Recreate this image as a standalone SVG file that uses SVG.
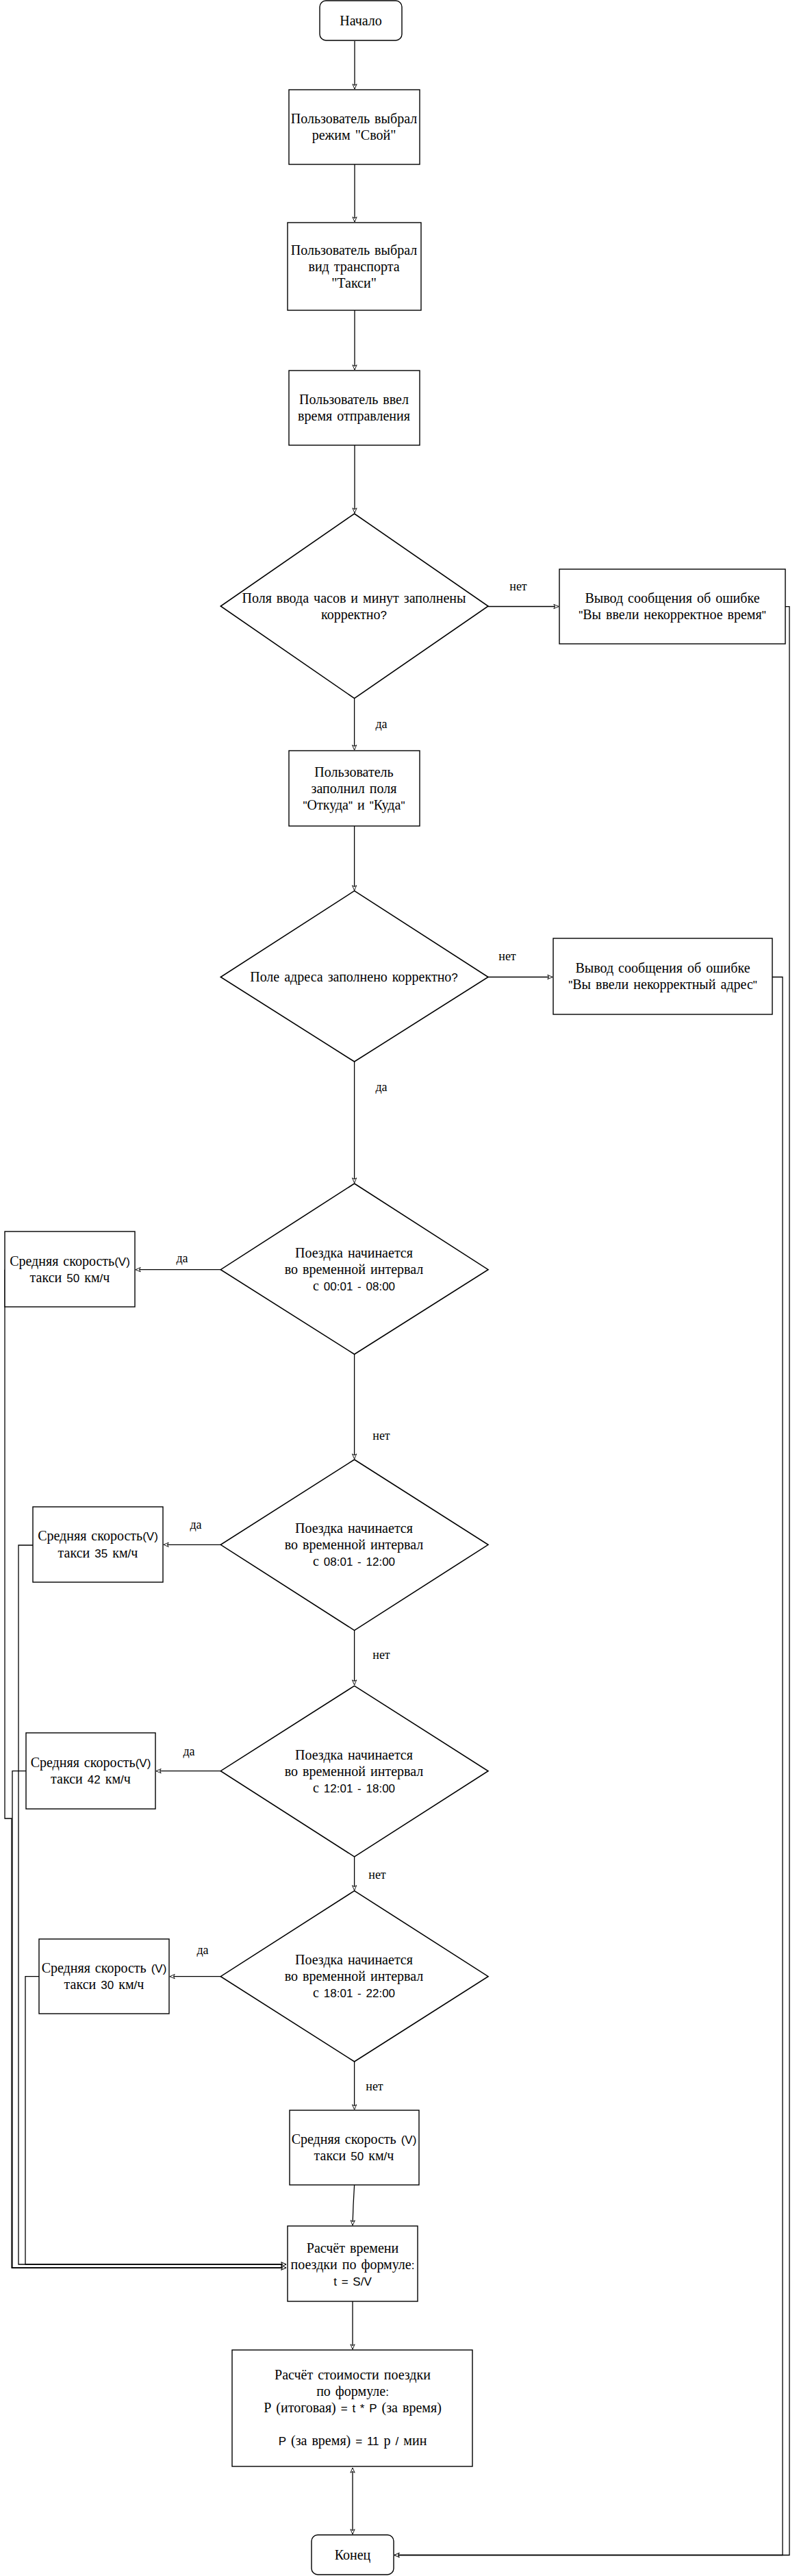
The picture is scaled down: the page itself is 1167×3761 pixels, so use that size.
<svg xmlns="http://www.w3.org/2000/svg" width="1167" height="3761" viewBox="0 0 1167 3761">
<style>
.bg{fill:#fff}
.box{fill:#fff;stroke:#000;stroke-width:1.4}
.box2{fill:none;stroke:#000;stroke-width:0.7;opacity:0.7}
.dia{fill:#fff;stroke:#000;stroke-width:1.6}
.t{font-family:"Liberation Serif","Times New Roman",serif;font-size:20px;text-anchor:middle;word-spacing:2px;fill:#000}
.h{font-family:"Liberation Sans",Arial,sans-serif;font-size:17px;font-weight:normal}
.lbl{font-family:"Liberation Serif","Times New Roman",serif;font-size:18px;text-anchor:middle;fill:#000}
.c{fill:none;stroke:#000;stroke-width:1.3}
</style>
<defs>
<marker id="ah" viewBox="0 0 10 10" refX="9" refY="5" markerWidth="9" markerHeight="9" orient="auto-start-reverse" markerUnits="userSpaceOnUse">
<path d="M1,1.5 L9,5 L1,8.5 L3,5 Z" fill="#fff" stroke="#000" stroke-width="1"/>
</marker>
</defs>
<rect class="bg" x="0" y="0" width="1167" height="3761"/>

<g id="connectors">
<path class="c" d="M518,60 L518,130" marker-end="url(#ah)"/>
<path class="c" d="M518,240 L518,324" marker-end="url(#ah)"/>
<path class="c" d="M518,453 L518,540" marker-end="url(#ah)"/>
<path class="c" d="M518,650 L518,749" marker-end="url(#ah)"/>
<path class="c" d="M713,885.5 L816,885.5" marker-end="url(#ah)"/>
<path class="c" d="M517.6,1019.6 L517.6,1095" marker-end="url(#ah)"/>
<path class="c" d="M517.6,1206 L517.6,1300" marker-end="url(#ah)"/>
<path class="c" d="M713,1426.5 L807,1426.5" marker-end="url(#ah)"/>
<path class="c" d="M517.6,1550 L517.6,1727" marker-end="url(#ah)"/>
<path class="c" d="M322,1853.7 L198,1853.7" marker-end="url(#ah)"/>
<path class="c" d="M517.6,1977 L517.6,2130" marker-end="url(#ah)"/>
<path class="c" d="M322,2255.3 L239,2255.3" marker-end="url(#ah)"/>
<path class="c" d="M517.6,2380 L517.6,2460" marker-end="url(#ah)"/>
<path class="c" d="M322,2585.7 L228,2585.7" marker-end="url(#ah)"/>
<path class="c" d="M517.6,2711 L517.6,2760" marker-end="url(#ah)"/>
<path class="c" d="M322,2885.7 L248,2885.7" marker-end="url(#ah)"/>
<path class="c" d="M517.6,3010 L517.6,3080" marker-end="url(#ah)"/>
<path class="c" d="M517.6,3190 L516,3220 L515,3249" marker-end="url(#ah)"/>
<path class="c" d="M515,3360 L515,3430" marker-end="url(#ah)"/>
<path class="c" d="M515,3603 L515,3700" marker-start="url(#ah)" marker-end="url(#ah)"/>
<path class="c" d="M7,1853.7 L7,2655 L17,2655 L17,3311 L418,3311" marker-end="url(#ah)"/>
<path class="c" d="M38,2585.7 L18,2585.7 L18,3311 L418,3311" marker-end="url(#ah)"/>
<path class="c" d="M48,2256 L27,2256 L27,3306 L418,3306" marker-end="url(#ah)"/>
<path class="c" d="M57,2885.7 L37,2885.7 L37,3306 L418,3306" marker-end="url(#ah)"/>
<path class="c" d="M1147,885.7 L1153,885.7 L1153,3730.5 L576,3730.5" marker-end="url(#ah)"/>
<path class="c" d="M1128,1426.5 L1143,1426.5 L1143,3730.5 L576,3730.5" marker-end="url(#ah)"/>
<text class="lbl" x="757" y="862">нет</text>
<text class="lbl" x="557" y="1063">да</text>
<text class="lbl" x="741" y="1402">нет</text>
<text class="lbl" x="557" y="1593">да</text>
<text class="lbl" x="266" y="1843">да</text>
<text class="lbl" x="557" y="2102">нет</text>
<text class="lbl" x="286" y="2232">да</text>
<text class="lbl" x="557" y="2422">нет</text>
<text class="lbl" x="276" y="2563">да</text>
<text class="lbl" x="551" y="2743">нет</text>
<text class="lbl" x="296" y="2853">да</text>
<text class="lbl" x="547" y="3052">нет</text>
</g>

<g id="start">
<rect class="box" x="467" y="1" width="120" height="58" rx="9"/>
<text class="t" x="527" y="37">Начало</text>
</g>

<g id="mode">
<rect class="box" x="422" y="131" width="191" height="109"/>
<text class="t" x="517" y="180">Пользователь выбрал</text>
<text class="t" x="517" y="204">режим "Свой"</text>
</g>

<g id="transport">
<rect class="box" x="420" y="325" width="195" height="128"/>
<text class="t" x="517" y="372">Пользователь выбрал</text>
<text class="t" x="517" y="396">вид транспорта</text>
<text class="t" x="517" y="420">"Такси"</text>
</g>

<g id="time">
<rect class="box" x="422" y="541" width="191" height="109"/>
<text class="t" x="517" y="590">Пользователь ввел</text>
<text class="t" x="517" y="614">время отправления</text>
</g>

<g id="check-time">
<polygon class="dia" points="517.6,750 713,885 517.6,1019.6 322.3,885"/>
<text class="t" x="517" y="880">Поля ввода часов и минут заполнены</text>
<text class="t" x="517" y="904">корректно<tspan class="h">?</tspan></text>
</g>

<g id="err-time">
<rect class="box" x="817" y="831" width="330" height="109"/>
<text class="t" x="982" y="880">Вывод сообщения об ошибке</text>
<text class="t" x="982" y="904"><tspan class="h">"</tspan>Вы ввели некорректное время<tspan class="h">"</tspan></text>
</g>

<g id="address">
<rect class="box" x="422" y="1096" width="191" height="110"/>
<text class="t" x="517" y="1134">Пользователь</text>
<text class="t" x="517" y="1158">заполнил поля</text>
<text class="t" x="517" y="1182"><tspan class="h">"</tspan>Откуда<tspan class="h">"</tspan> и <tspan class="h">"</tspan>Куда<tspan class="h">"</tspan></text>
</g>

<g id="check-address">
<polygon class="dia" points="517.6,1300.7 713,1426.5 517.6,1550 322.3,1426.5"/>
<text class="t" x="517" y="1433">Поле адреса заполнено корректно<tspan class="h">?</tspan></text>
</g>

<g id="err-address">
<rect class="box" x="808" y="1370" width="320" height="111"/>
<text class="t" x="968" y="1420">Вывод сообщения об ошибке</text>
<text class="t" x="968" y="1444"><tspan class="h">"</tspan>Вы ввели некорректный адрес<tspan class="h">"</tspan></text>
</g>

<g id="interval1">
<polygon class="dia" points="517.6,1728 713,1853.7 517.6,1977.2 322.3,1853.7"/>
<text class="t" x="517" y="1836">Поездка начинается</text>
<text class="t" x="517" y="1860">во временной интервал</text>
<text class="t" x="517" y="1884">с <tspan class="h">00:01 - 08:00</tspan></text>
</g>

<g id="speed1">
<rect class="box" x="7" y="1798" width="190" height="110"/>
<text class="t" x="102" y="1848">Средняя скорость<tspan class="h">(V)</tspan></text>
<text class="t" x="102" y="1872">такси <tspan class="h">50</tspan> км<tspan class="h">/</tspan>ч</text>
</g>

<g id="interval2">
<polygon class="dia" points="517.6,2131 713,2255.3 517.6,2380.3 322.3,2255.3"/>
<text class="t" x="517" y="2238">Поездка начинается</text>
<text class="t" x="517" y="2262">во временной интервал</text>
<text class="t" x="517" y="2286">с <tspan class="h">08:01 - 12:00</tspan></text>
</g>

<g id="speed2">
<rect class="box" x="48" y="2200" width="190" height="110"/>
<text class="t" x="143" y="2249">Средняя скорость<tspan class="h">(V)</tspan></text>
<text class="t" x="143" y="2274">такси <tspan class="h">35</tspan> км<tspan class="h">/</tspan>ч</text>
</g>

<g id="interval3">
<polygon class="dia" points="517.6,2461.4 713,2585.7 517.6,2710.8 322.3,2585.7"/>
<text class="t" x="517" y="2569">Поездка начинается</text>
<text class="t" x="517" y="2593">во временной интервал</text>
<text class="t" x="517" y="2617">с <tspan class="h">12:01 - 18:00</tspan></text>
</g>

<g id="speed3">
<rect class="box" x="38" y="2530" width="189" height="111"/>
<text class="t" x="132.5" y="2580">Средняя скорость<tspan class="h">(V)</tspan></text>
<text class="t" x="132.5" y="2604">такси <tspan class="h">42</tspan> км<tspan class="h">/</tspan>ч</text>
</g>

<g id="interval4">
<polygon class="dia" points="517.6,2760.6 713,2885.7 517.6,3010 322.3,2885.7"/>
<text class="t" x="517" y="2868">Поездка начинается</text>
<text class="t" x="517" y="2892">во временной интервал</text>
<text class="t" x="517" y="2916">с <tspan class="h">18:01 - 22:00</tspan></text>
</g>

<g id="speed4">
<rect class="box" x="57" y="2831" width="190" height="109"/>
<text class="t" x="152" y="2880">Средняя скорость <tspan class="h">(V)</tspan></text>
<text class="t" x="152" y="2904">такси <tspan class="h">30</tspan> км<tspan class="h">/</tspan>ч</text>
</g>

<g id="speed5">
<rect class="box" x="423" y="3081" width="189" height="109"/>
<text class="t" x="517" y="3130">Средняя скорость <tspan class="h">(V)</tspan></text>
<text class="t" x="517" y="3154">такси <tspan class="h">50</tspan> км<tspan class="h">/</tspan>ч</text>
</g>

<g id="calc-time">
<rect class="box" x="420" y="3250" width="190" height="110"/>
<text class="t" x="515" y="3289">Расчёт времени</text>
<text class="t" x="515" y="3313">поездки по формуле<tspan class="h">:</tspan></text>
<text class="t" x="515" y="3337"><tspan class="h">t = S/V</tspan></text>
</g>

<g id="calc-cost">
<rect class="box" x="339" y="3431" width="351" height="170"/>
<text class="t" x="515" y="3474">Расчёт стоимости поездки</text>
<text class="t" x="515" y="3498">по формуле<tspan class="h">:</tspan></text>
<text class="t" x="515" y="3522">Р (итоговая) <tspan class="h">= t * P</tspan> (за время)</text>
<text class="t" x="515" y="3570"><tspan class="h">P</tspan> (за время) <tspan class="h">= 11</tspan> р <tspan class="h">/</tspan> мин</text>
</g>

<g id="end">
<rect class="box" x="455" y="3701" width="120" height="58" rx="9"/>
<text class="t" x="515" y="3737">Конец</text>
</g>
</svg>
